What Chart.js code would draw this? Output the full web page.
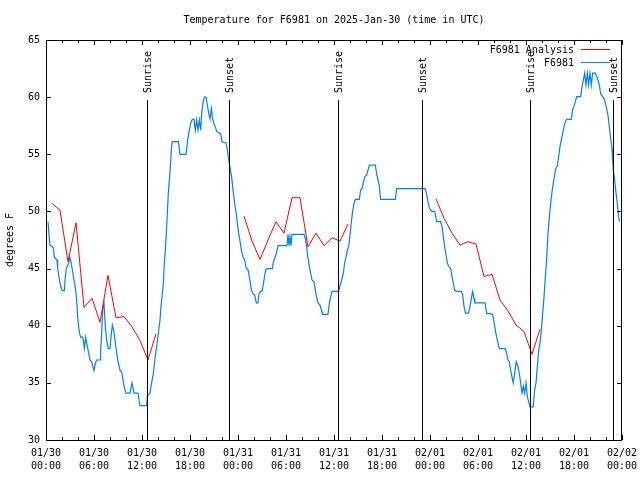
<!DOCTYPE html>
<html>
<head>
<meta charset="utf-8">
<script src="https://cdn.jsdelivr.net/npm/chart.js@4/dist/chart.umd.min.js"></script>
<style>
  html, body { margin: 0; padding: 0; background: #fff; }
</style>
</head>
<body>
<canvas id="chart" width="640" height="480"></canvas>
<script>
// ── data (hours since 01/30 00:00 UTC, degrees F) ─────────────────
const title = 'Temperature for F6981 on 2025-Jan-30 (time in UTC)';

const dayLabels  = ['01/30', '01/30', '01/30', '01/30', '01/31', '01/31', '01/31',
                    '01/31', '02/01', '02/01', '02/01', '02/01', '02/02'];
const timeLabels = ['00:00', '06:00', '12:00', '18:00', '00:00', '06:00', '12:00',
                    '18:00', '00:00', '06:00', '12:00', '18:00', '00:00'];

const sunHours = [12.66, 22.91, 36.54, 46.96, 60.54, 70.91];
const sunNames = ['Sunrise', 'Sunset', 'Sunrise', 'Sunset', 'Sunrise', 'Sunset'];

// station observations
const obsHours = [
  0.25, 0.42, 0.5, 0.92, 1.04, 1.375, 1.46, 1.67, 1.875, 2.04, 2.29, 2.375, 2.54, 2.83, 2.96,
  3.125, 3.29, 3.42, 3.58, 3.71, 3.83, 3.96, 4.08, 4.21, 4.33, 4.58, 4.67, 4.79, 4.96, 5.17,
  5.33, 5.5, 5.71, 6.0, 6.17, 6.33, 6.75, 6.83, 6.96, 7.08, 7.25, 7.42, 7.58, 7.79, 8.0,
  8.125, 8.29, 8.46, 8.625, 8.79, 8.96, 9.25, 9.45, 9.625, 9.83, 10.0, 10.5, 10.75, 11.0, 11.5,
  11.625, 11.75, 12.58, 12.67, 13.0, 13.2, 13.42, 13.6, 13.83, 14.04, 14.25, 14.375, 14.5, 14.67, 14.79,
  14.92, 15.04, 15.17, 15.29, 15.42, 15.54, 15.67, 15.79, 16.54, 16.75, 17.5, 17.67, 17.83, 18.08, 18.29,
  18.5, 18.67, 18.83, 19.0, 19.17, 19.33, 19.46, 19.625, 19.79, 20.0, 20.17, 20.33, 20.5, 20.67, 20.83,
  21.0, 21.17, 21.33, 21.83, 22.0, 22.5, 22.67, 22.83, 23.0, 23.2, 23.375, 23.58, 23.79, 23.92, 24.08,
  24.25, 24.42, 24.625, 24.83, 25.04, 25.25, 25.46, 25.67, 25.875, 26.08, 26.29, 26.5, 26.625, 26.83, 27.04,
  27.25, 27.46, 27.67, 28.3, 28.4, 28.58, 28.79, 29.0, 30.125, 30.25, 30.375, 30.5, 30.625, 30.75, 32.25,
  32.42, 32.58, 32.75, 32.92, 33.08, 33.25, 33.5, 33.67, 33.83, 34.0, 34.25, 34.42, 34.58, 35.25, 35.42,
  35.58, 35.75, 36.58, 36.75, 36.96, 37.17, 37.33, 37.5, 37.67, 37.83, 38.0, 38.17, 38.33, 38.5, 38.67,
  39.17, 39.33, 39.5, 39.67, 39.83, 40.08, 40.25, 40.42, 41.17, 41.33, 41.5, 41.67, 41.83, 43.67, 43.83,
  47.4, 47.58, 47.79, 47.92, 48.2, 48.6, 48.83, 49.33, 49.5, 49.67, 49.83, 50.0, 50.17, 50.33, 50.58,
  50.75, 50.92, 51.08, 51.25, 51.92, 52.08, 52.25, 52.42, 52.83, 53.0, 53.2, 53.33, 53.5, 53.6, 54.875,
  55.08, 55.83, 56.0, 56.17, 56.33, 56.5, 56.67, 57.42, 57.58, 57.75, 57.92, 58.08, 58.25, 58.4, 58.58,
  58.79, 59.0, 59.17, 59.33, 59.5, 59.67, 59.83, 60.0, 60.17, 60.33, 60.5, 60.9, 61.08, 61.25, 61.42,
  61.58, 61.75, 61.92, 62.08, 62.25, 62.42, 62.58, 62.75, 62.92, 63.08, 63.25, 63.42, 63.58, 63.75, 63.92,
  64.08, 64.25, 64.42, 64.58, 64.75, 64.92, 65.08, 65.67, 65.83, 66.0, 66.17, 66.33, 66.83, 67.0, 67.17,
  67.33, 67.5, 67.67, 67.83, 68.0, 68.17, 68.33, 68.67, 68.92, 69.17, 69.33, 69.58, 69.83, 70.08, 70.25,
  70.42, 70.58, 70.75, 70.83, 70.92, 71.08, 71.25, 71.42, 71.58, 71.71,
];
const obsTemps = [
  49.1, 47.6, 47.06, 46.8, 46.0, 45.75, 45.0, 44.0, 43.36, 43.07, 43.07, 44.0, 45.0, 45.46, 46.0,
  45.6, 44.9, 44.3, 43.7, 43.1, 42.25, 40.8, 39.9, 39.3, 39.0, 39.0, 38.75, 38.0, 39.0, 38.2,
  37.6, 37.0, 36.85, 36.07, 36.7, 37.0, 37.0, 37.7, 39.3, 41.4, 41.96, 39.9, 38.75, 38.0, 38.0,
  39.0, 40.06, 39.6, 38.75, 37.9, 37.0, 36.1, 36.0, 35.25, 34.5, 34.1, 34.1, 35.0, 34.1, 34.1,
  33.5, 33.0, 33.0, 33.9, 34.1, 35.0, 35.8, 37.0, 38.2, 39.3, 40.5, 41.7, 42.5, 43.7, 45.5,
  46.6, 48.1, 49.8, 51.6, 52.75, 53.9, 55.4, 56.1, 56.1, 55.0, 55.0, 56.0, 56.8, 57.7, 58.06,
  58.06, 57.1, 58.0, 57.1, 58.0, 57.1, 58.6, 59.5, 60.0, 60.0, 59.3, 58.6, 58.1, 59.0, 58.1,
  57.7, 57.4, 57.0, 56.8, 56.1, 56.0, 55.4, 54.5, 53.9, 53.0, 51.9, 50.7, 49.8, 48.96, 48.1,
  47.4, 46.6, 46.0, 45.75, 45.0, 44.9, 44.1, 43.1, 42.8, 42.7, 42.0, 42.0, 42.8, 43.0, 43.1,
  44.0, 44.9, 45.0, 45.0, 45.5, 45.9, 46.3, 47.0, 47.0, 48.0, 47.0, 47.8, 47.0, 48.0, 48.0,
  47.6, 46.9, 45.9, 45.2, 44.6, 44.0, 43.85, 43.1, 42.5, 42.0, 41.8, 41.4, 41.0, 41.0, 42.0,
  42.5, 43.0, 43.0, 43.5, 44.0, 44.6, 45.5, 46.0, 46.6, 46.9, 47.9, 49.1, 50.0, 50.7, 51.06,
  51.06, 51.9, 52.0, 52.5, 53.0, 53.2, 53.6, 54.06, 54.06, 53.3, 52.75, 52.2, 51.06, 51.06, 52.0,
  52.0, 51.5, 50.7, 50.3, 50.0, 50.0, 49.1, 49.1, 48.7, 47.8, 46.9, 46.2, 45.5, 45.2, 45.0,
  44.3, 43.7, 43.1, 43.0, 43.0, 42.7, 41.7, 41.1, 41.1, 41.7, 42.5, 43.0, 42.4, 42.0, 42.0,
  41.1, 41.0, 40.35, 39.6, 39.0, 38.5, 38.0, 38.0, 37.6, 37.0, 36.85, 36.1, 35.5, 35.0, 35.8,
  36.85, 36.4, 35.8, 35.0, 34.1, 34.7, 34.1, 35.0, 33.8, 33.35, 32.9, 32.9, 34.4, 35.0, 36.4,
  37.8, 38.5, 39.6, 41.1, 42.5, 44.3, 45.75, 48.1, 49.5, 50.7, 51.7, 52.5, 53.2, 53.8, 54.0,
  54.8, 55.7, 56.25, 56.8, 57.4, 57.85, 58.06, 58.06, 58.9, 59.2, 59.6, 60.04, 60.04, 60.9, 61.5,
  62.1, 61.06, 62.1, 61.06, 62.1, 61.06, 62.1, 62.1, 61.65, 61.06, 60.3, 60.04, 59.75, 59.0, 58.4,
  57.4, 56.4, 55.5, 54.5, 53.6, 52.75, 51.6, 50.7, 49.5, 49.1,
];

// analysis runs (null = gap between runs)
const anaHours = [
  0.75, 1.75, 2.75, 3.75, 4.75, 5.75, 6.75, 7.75, 8.75, 9.75, 10.75, 11.75, 12.75, 13.75,
  19,
  24.75, 25.75, 26.75, 27.75, 28.75, 29.75, 30.75, 31.75, 32.75, 33.75, 34.75, 35.75, 36.75, 37.75,
  43,
  48.75, 49.75, 50.75, 51.75, 52.75, 53.75, 54.75, 55.75, 56.75, 57.75, 58.75, 59.75, 60.75, 61.75,
];
const anaTemps = [
  50.7, 50.1, 45.6, 49.0, 41.6, 42.4, 40.3, 44.4, 40.7, 40.8, 39.9, 38.7, 37.0, 39.3,
  null,
  49.6, 47.4, 45.8, 47.5, 49.1, 48.1, 51.2, 51.2, 46.9, 48.1, 47.0, 47.7, 47.4, 48.9,
  null,
  51.1, 49.4, 48.1, 47.06, 47.35, 47.15, 44.3, 44.5, 42.25, 41.3, 40.06, 39.5, 37.5, 39.7,
];

const FONT = "'DejaVu Sans Mono', 'Liberation Mono', monospace";
const RED = 'rgb(255,0,0)';
const BLUE = 'rgb(0,128,255)';

// ── gnuplot look: frame, inward tics, sun markers, key, title ─────
const gnuplotDecor = {
  id: 'gnuplotDecor',
  afterDatasetsDraw(chart) {
    const { ctx, chartArea: A, scales } = chart;
    const xs = scales.x, ys = scales.y;
    ctx.save();
    ctx.strokeStyle = '#000';
    ctx.lineWidth = 1;

    // sunrise / sunset markers
    const lineTop = A.bottom - 0.85 * (A.bottom - A.top);
    ctx.font = '10px ' + FONT;
    ctx.fillStyle = '#000';
    sunHours.forEach((h, i) => {
      const x = Math.round(xs.getPixelForValue(h)) + 0.5;
      ctx.beginPath();
      ctx.moveTo(x, lineTop);
      ctx.lineTo(x, A.bottom);
      ctx.stroke();
      ctx.save();
      ctx.translate(x + 1, lineTop - 7);
      ctx.rotate(-Math.PI / 2);
      ctx.textAlign = 'left';
      ctx.textBaseline = 'middle';
      ctx.fillText(sunNames[i], 0, 0);
      ctx.restore();
    });

    // frame
    ctx.strokeRect(A.left + 0.5, A.top + 0.5, A.right - A.left - 1, A.bottom - A.top);

    // x tics (bottom and top, pointing inward)
    ctx.beginPath();
    xs.ticks.forEach(t => {
      const x = Math.round(xs.getPixelForValue(t.value)) + 0.5;
      const len = t.value % 6 === 0 ? 5 : 3;
      ctx.moveTo(x, A.bottom); ctx.lineTo(x, A.bottom - len);
      ctx.moveTo(x, A.top);    ctx.lineTo(x, A.top + len);
    });
    // y tics (left and right)
    ys.ticks.forEach(t => {
      const y = Math.round(ys.getPixelForValue(t.value)) + 0.5;
      ctx.moveTo(A.left, y);  ctx.lineTo(A.left + 5, y);
      ctx.moveTo(A.right, y); ctx.lineTo(A.right - 5, y);
    });
    ctx.stroke();

    // key, top right
    ctx.textAlign = 'right';
    ctx.textBaseline = 'middle';
    chart.data.datasets.forEach((ds, i) => {
      const y = 50 + i * 13;
      ctx.fillText(ds.label, 574, y);
      ctx.strokeStyle = ds.borderColor;
      ctx.beginPath();
      ctx.moveTo(581, y - 0.5);
      ctx.lineTo(610, y - 0.5);
      ctx.stroke();
    });

    // title
    ctx.textAlign = 'center';
    ctx.fillText(title, (A.left + A.right) / 2, 20);
    ctx.restore();
  },
};

new Chart(document.getElementById('chart'), {
  type: 'line',
  plugins: [gnuplotDecor],
  data: {
    datasets: [
      {
        label: 'F6981 Analysis',
        data: anaHours.map((h, i) => ({ x: h, y: anaTemps[i] })),
        borderColor: RED,
        borderWidth: 1,
        pointRadius: 0,
        tension: 0,
        spanGaps: false,
      },
      {
        label: 'F6981',
        data: obsHours.map((h, i) => ({ x: h, y: obsTemps[i] })),
        borderColor: BLUE,
        borderWidth: 1.2,
        pointRadius: 0,
        tension: 0,
      },
    ],
  },
  options: {
    responsive: false,
    animation: false,
    events: [],
    layout: { padding: { left: 0, top: 40, right: 18, bottom: 0 } },
    plugins: { legend: { display: false }, title: { display: false }, tooltip: { enabled: false } },
    scales: {
      x: {
        type: 'linear',
        min: 0,
        max: 72,
        afterFit(scale) {
          scale.height = 40;
          scale.paddingLeft = 0;
          scale.paddingRight = 0;
        },
        grid: { display: false, drawTicks: false },
        border: { display: false },
        ticks: {
          stepSize: 2,
          maxTicksLimit: 50,
          autoSkip: false,
          maxRotation: 0,
          padding: 7,
          color: '#000',
          font: { family: FONT, size: 10, lineHeight: 1.3 },
          callback(v) {
            if (v % 6 !== 0) return '';
            const i = v / 6;
            return [dayLabels[i], timeLabels[i]];
          },
        },
      },
      y: {
        min: 30,
        max: 65,
        afterFit(scale) { scale.width = 46; },
        grid: { display: false, drawTicks: false },
        border: { display: false },
        title: {
          display: true,
          text: 'degrees F',
          color: '#000',
          font: { family: FONT, size: 10 },
          padding: { top: 4, bottom: 0 },
        },
        ticks: {
          stepSize: 5,
          padding: 6,
          color: '#000',
          font: { family: FONT, size: 10 },
        },
      },
    },
  },
});
</script>
</body>
</html>
